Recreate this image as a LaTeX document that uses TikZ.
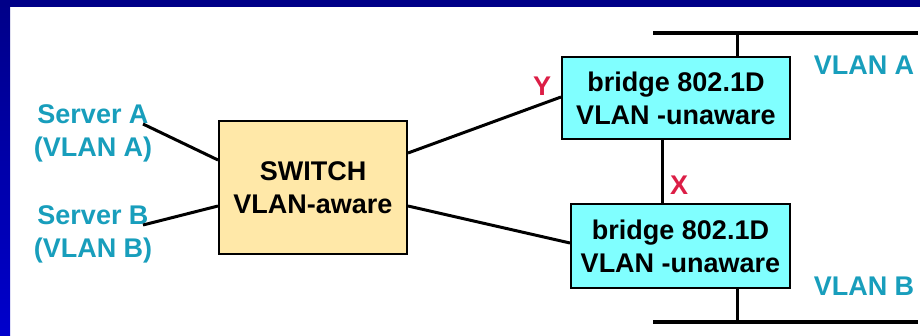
\documentclass[tikz,border=0pt]{standalone}
\usepackage{fontspec}
\setmainfont{Liberation Sans}
\definecolor{navy}{HTML}{000088}
\definecolor{leftblue}{HTML}{0000CC}
\definecolor{swfill}{HTML}{FFE8A8}
\definecolor{brfill}{HTML}{80FFFF}
\definecolor{tealtxt}{HTML}{189EBC}
\definecolor{redtxt}{HTML}{DC1E46}
\tikzset{
  lbl/.style={font=\fontsize{27}{33}\selectfont\bfseries, inner sep=0pt, align=center},
  boxnode/.style={lbl, draw=black, line width=2pt, text=black},
  switchbox/.style={boxnode, fill=swfill},
  bridgebox/.style={boxnode, fill=brfill},
  teallbl/.style={lbl, text=tealtxt},
  redlbl/.style={lbl, text=redtxt},
  link/.style={line width=3pt, black},
  bus/.style={line width=4pt, black},
}
\begin{document}
\begin{tikzpicture}[x=1pt, y=-1pt]
\useasboundingbox (0,0) rectangle (920,335);
\fill[white] (0,0) rectangle (920,335);
\shade[top color=navy, bottom color=leftblue] (0,0) rectangle (10,335);
\fill[navy] (0,0) rectangle (920,7);

% nodes
\node[switchbox, minimum width=188pt, minimum height=133pt] (sw) at (313,187.5) {SWITCH\\VLAN-aware};
\node[bridgebox, minimum width=228pt, minimum height=82pt] (b1) at (676,98) {bridge 802.1D\\VLAN -unaware};
\node[bridgebox, minimum width=219pt, minimum height=84pt] (b2) at (680.5,246) {bridge 802.1D\\VLAN -unaware};

\node[teallbl] (srvA) at (93,133.5) {Server A\\(VLAN A)};
\node[teallbl] (srvB) at (93,234.5) {Server B\\(VLAN B)};
\node[teallbl] (vA) at (864,65) {VLAN A};
\node[teallbl] (vB) at (864,286) {VLAN B};
\node[redlbl] (Y) at (542,86) {Y};
\node[redlbl] (X) at (679,185) {X};

% bus lines
\coordinate (busAl) at (653,33);
\coordinate (busAr) at (918,33);
\coordinate (busBl) at (653,322);
\coordinate (busBr) at (918,322);
\draw[bus] (busAl) -- (busAr);
\draw[bus] (busBl) -- (busBr);
\draw[link] (b1.north -| 737,0) -- (busAl -| 737,0);
\draw[link] (b2.south -| 737,0) -- (busBl -| 737,0);
\draw[link] (b1.south -| 662,0) -- (b2.north -| 662,0);

% connectors
\coordinate (sa) at (143,124);
\coordinate (sb) at (143,225);
\draw[link] (sa) -- (sw.west |- 0,160);
\draw[link] (sb) -- (sw.west |- 0,206);
\draw[link] (sw.east |- 0,153) -- (b1.west |- 0,97);
\draw[link] (sw.east |- 0,206) -- (b2.west |- 0,243);
\end{tikzpicture}
\end{document}
